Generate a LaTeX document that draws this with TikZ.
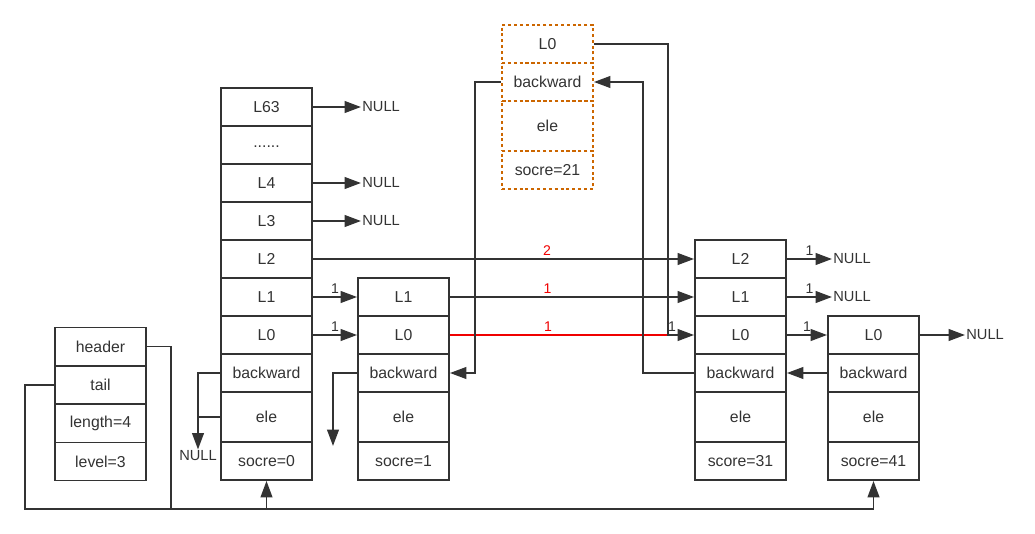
\documentclass[tikz,border=0pt]{standalone}
\usepackage{fontspec}
\setmainfont{Liberation Sans}
\usetikzlibrary{arrows.meta}
\definecolor{linegray}{RGB}{51,51,51}
\definecolor{dotorange}{RGB}{204,102,0}
\definecolor{spanred}{RGB}{240,0,0}
\tikzset{
  cell/.style={draw=linegray, line width=1.6pt, minimum width=2.73cm, minimum height=1.14cm, inner sep=0pt, text=linegray, font=\fontsize{13.5}{16}\selectfont},
  elecell/.style={cell, minimum height=1.5cm},
  ghost/.style={draw=dotorange, dash pattern=on 2.5pt off 2.5pt},
  nulltext/.style={anchor=west, inner sep=1pt, text=linegray, font=\fontsize{12.5}{15}\selectfont},
  plain/.style={draw=linegray, line width=1.6pt},
  link/.style={plain, -{Triangle[length=14pt,width=10pt]}},
  span/.style={font=\fontsize{12}{14}\selectfont, text=linegray, inner sep=2pt},
}

\begin{document}
\begin{tikzpicture}[x=0.03cm, y=-0.03cm]
\useasboundingbox (0,0) rectangle (1035,534);
% List header
\node[cell] (hdr) at (100.5,346.5) {header};
\node[cell] (tail) at (100.5,385) {tail};
\node[cell] (len) at (100.5,423.5) {length=4};
\node[cell] (lvl) at (100.5,461.5) {level=3};
% Head node
\node[cell] (hL63) at (266.5,107) {L63};
\node[cell] (hdots) at (266.5,145) {\raisebox{-0.6ex}{......}};
\node[cell] (hL4) at (266.5,183) {L4};
\node[cell] (hL3) at (266.5,221) {L3};
\node[cell] (hL2) at (266.5,259) {L2};
\node[cell] (hL1) at (266.5,297) {L1};
\node[cell] (hL0) at (266.5,335) {L0};
\node[cell] (hback) at (266.5,373) {backward};
\node[elecell] (hele) at (266.5,417) {ele};
\node[cell] (hscore) at (266.5,461) {socre=0};
% Node 1
\node[cell] (n1L1) at (403.5,297) {L1};
\node[cell] (n1L0) at (403.5,335) {L0};
\node[cell] (n1back) at (403.5,373) {backward};
\node[elecell] (n1ele) at (403.5,417) {ele};
\node[cell] (n1score) at (403.5,461) {socre=1};
% New node (dotted)
\node[cell, ghost] (dL0) at (547.5,44) {L0};
\node[cell, ghost] (dback) at (547.5,82) {backward};
\node[elecell, ghost] (dele) at (547.5,126) {ele};
\node[cell, ghost] (dscore) at (547.5,170) {socre=21};
% Node 31
\node[cell] (n3L2) at (740.5,259) {L2};
\node[cell] (n3L1) at (740.5,297) {L1};
\node[cell] (n3L0) at (740.5,335) {L0};
\node[cell] (n3back) at (740.5,373) {backward};
\node[elecell] (n3ele) at (740.5,417) {ele};
\node[cell] (n3score) at (740.5,461) {score=31};
% Node 41
\node[cell] (n4L0) at (873.5,335) {L0};
\node[cell] (n4back) at (873.5,373) {backward};
\node[elecell] (n4ele) at (873.5,417) {ele};
\node[cell] (n4score) at (873.5,461) {socre=41};

% NULL ends
\node[nulltext] (null63) at (361,107) {NULL};
\node[nulltext] (null4) at (361,183) {NULL};
\node[nulltext] (null3) at (361,221) {NULL};
\node[nulltext] (null32) at (832,259) {NULL};
\node[nulltext] (null31) at (832,297) {NULL};
\node[nulltext] (null41) at (965,335) {NULL};
\node[text=linegray, inner sep=1pt, font=\fontsize{12.5}{15}\selectfont] (null0) at (198,456) {NULL};
\coordinate (n1end) at (333,446);
\coordinate (c1) at (668,335);
\coordinate (c2) at (643,82);
\coordinate (c3) at (475,373);
\coordinate (c4) at (171,509);
\coordinate (c5) at (25,509);

% Level links
\draw[link] (hL63) -- (null63);
\draw[link] (hL4) -- (null4);
\draw[link] (hL3) -- (null3);
\draw[link] (hL2) -- node[span, above, pos=0.614, text=spanred] {2} (n3L2);
\draw[link] (hL1) -- node[span, above] {1} (n1L1);
\draw[link] (hL0) -- node[span, above] {1} (n1L0);
\draw[link] (n1L1) -- node[span, above, pos=0.4, text=spanred] {1} (n3L1);
\draw[plain, draw=spanred] (n1L0.east) -- node[span, above, pos=0.45, text=spanred] {1} (c1);
\draw[link] (dL0.east) -| (c1) -- node[span, above, pos=0.15] {1} (n3L0.west);
\draw[link] (n3L2) -- node[span, above] {1} (null32);
\draw[link] (n3L1) -- node[span, above] {1} (null31);
\draw[link] (n3L0) -- node[span, above] {1} (n4L0);
\draw[link] (n4L0) -- (null41);

% Backward links
\draw[link] (hback.west) -| (null0.north);
\draw[plain] (hele.west) -- (hele.west -| null0);
\draw[link] (n1back.west) -| (n1end);
\draw[link] (dback.west) -| (c3) -- (n1back.east);
\draw[link] (n3back.west) -| (c2) -- (dback.east);
\draw[link] (n4back) -- (n3back);

% Header and tail
\draw[link] (hdr.east) -| (c4) -| (hscore.south);
\draw[link] (tail.west) -| (c5) -| (n4score.south);
\end{tikzpicture}
\end{document}
